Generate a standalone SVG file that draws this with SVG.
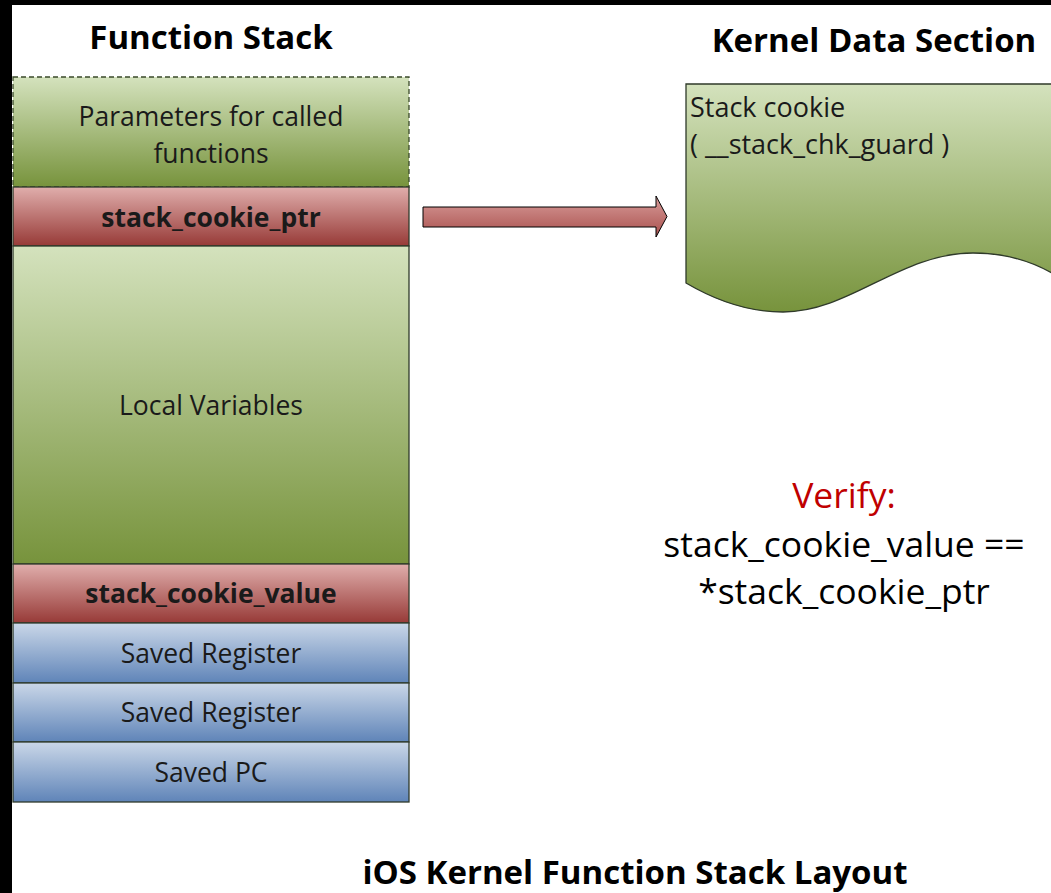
<svg xmlns="http://www.w3.org/2000/svg" width="1051" height="893" viewBox="0 0 1051 893">
<defs>
<linearGradient id="gGreen" x1="0" y1="0" x2="0" y2="1">
<stop offset="0" stop-color="#d4e2bd"/>
<stop offset="1" stop-color="#77933c"/>
</linearGradient>
<linearGradient id="gRed" x1="0" y1="0" x2="0" y2="1">
<stop offset="0" stop-color="#e0aeac"/>
<stop offset="1" stop-color="#973a37"/>
</linearGradient>
<linearGradient id="gBlue" x1="0" y1="0" x2="0" y2="1">
<stop offset="0" stop-color="#cad7e8"/>
<stop offset="1" stop-color="#5f84b8"/>
</linearGradient>
<linearGradient id="gArrow" x1="0" y1="0" x2="0" y2="1">
<stop offset="0" stop-color="#d89c9a"/>
<stop offset="1" stop-color="#a9504d"/>
</linearGradient>
<style>
text{font-family:"Open Sans","Liberation Sans",sans-serif;fill:#1a1a1a}
.h{font-weight:bold;font-size:33px;fill:#000}
.c{text-anchor:middle;font-size:26.5px}
.b{font-weight:bold}
.box{stroke:#2f3a2a;stroke-width:1.3}
.v{text-anchor:middle;font-size:35.5px}
</style>
</defs>
<rect x="0" y="0" width="1051" height="893" fill="#fff"/>
<rect x="0" y="0" width="1051" height="5" fill="#000"/>
<rect x="0" y="0" width="12" height="893" fill="#000"/>

<text class="h" x="211" y="49" text-anchor="middle">Function Stack</text>
<text class="h" x="874" y="52" text-anchor="middle">Kernel Data Section</text>

<g id="params">
<rect x="13" y="77" width="396" height="110" fill="url(#gGreen)" stroke="#3a4a2a" stroke-width="1.3" stroke-dasharray="5,3"/>
<text class="c" x="211" y="126">Parameters for called</text>
<text class="c" x="211" y="163">functions</text>
</g>
<g id="cookie_ptr">
<rect class="box" x="13" y="187" width="396" height="59" fill="url(#gRed)"/>
<text class="c b" x="211" y="227">stack_cookie_ptr</text>
</g>
<g id="locals">
<rect class="box" x="13" y="246" width="396" height="318" fill="url(#gGreen)"/>
<text class="c" x="211" y="415">Local Variables</text>
</g>
<g id="cookie_value">
<rect class="box" x="13" y="564" width="396" height="59" fill="url(#gRed)"/>
<text class="c b" x="211" y="603">stack_cookie_value</text>
</g>
<g id="reg1">
<rect class="box" x="13" y="623" width="396" height="60" fill="url(#gBlue)"/>
<text class="c" x="211" y="663">Saved Register</text>
</g>
<g id="reg2">
<rect class="box" x="13" y="683" width="396" height="59" fill="url(#gBlue)"/>
<text class="c" x="211" y="722">Saved Register</text>
</g>
<g id="pc">
<rect class="box" x="13" y="742" width="396" height="60" fill="url(#gBlue)"/>
<text class="c" x="211" y="782">Saved PC</text>
</g>

<g id="kernel_data">
<path d="M686,84 H1060 V278 C1040,265 1010,253 973,253 C900,253 850,312 783,312 C750,312 720,303 686,283 Z" fill="url(#gGreen)" stroke="#2f3a2a" stroke-width="1.3"/>
<text x="690" y="117" font-size="27">Stack cookie</text>
<text x="690" y="154" font-size="27">( __stack_chk_guard )</text>
</g>

<g id="connectors">
<path d="M423,207 H656 V196 L667,216.5 L656,237 V227 H423 Z" fill="url(#gArrow)" stroke="#000" stroke-width="1"/>
</g>

<g id="verify">
<text class="v" x="844" y="508" style="fill:#c00000">Verify:</text>
<text class="v" x="844" y="557" style="fill:#000">stack_cookie_value ==</text>
<text class="v" x="844" y="604" style="fill:#000">*stack_cookie_ptr</text>
</g>

<text class="h" x="635" y="884" text-anchor="middle">iOS Kernel Function Stack Layout</text>
</svg>
